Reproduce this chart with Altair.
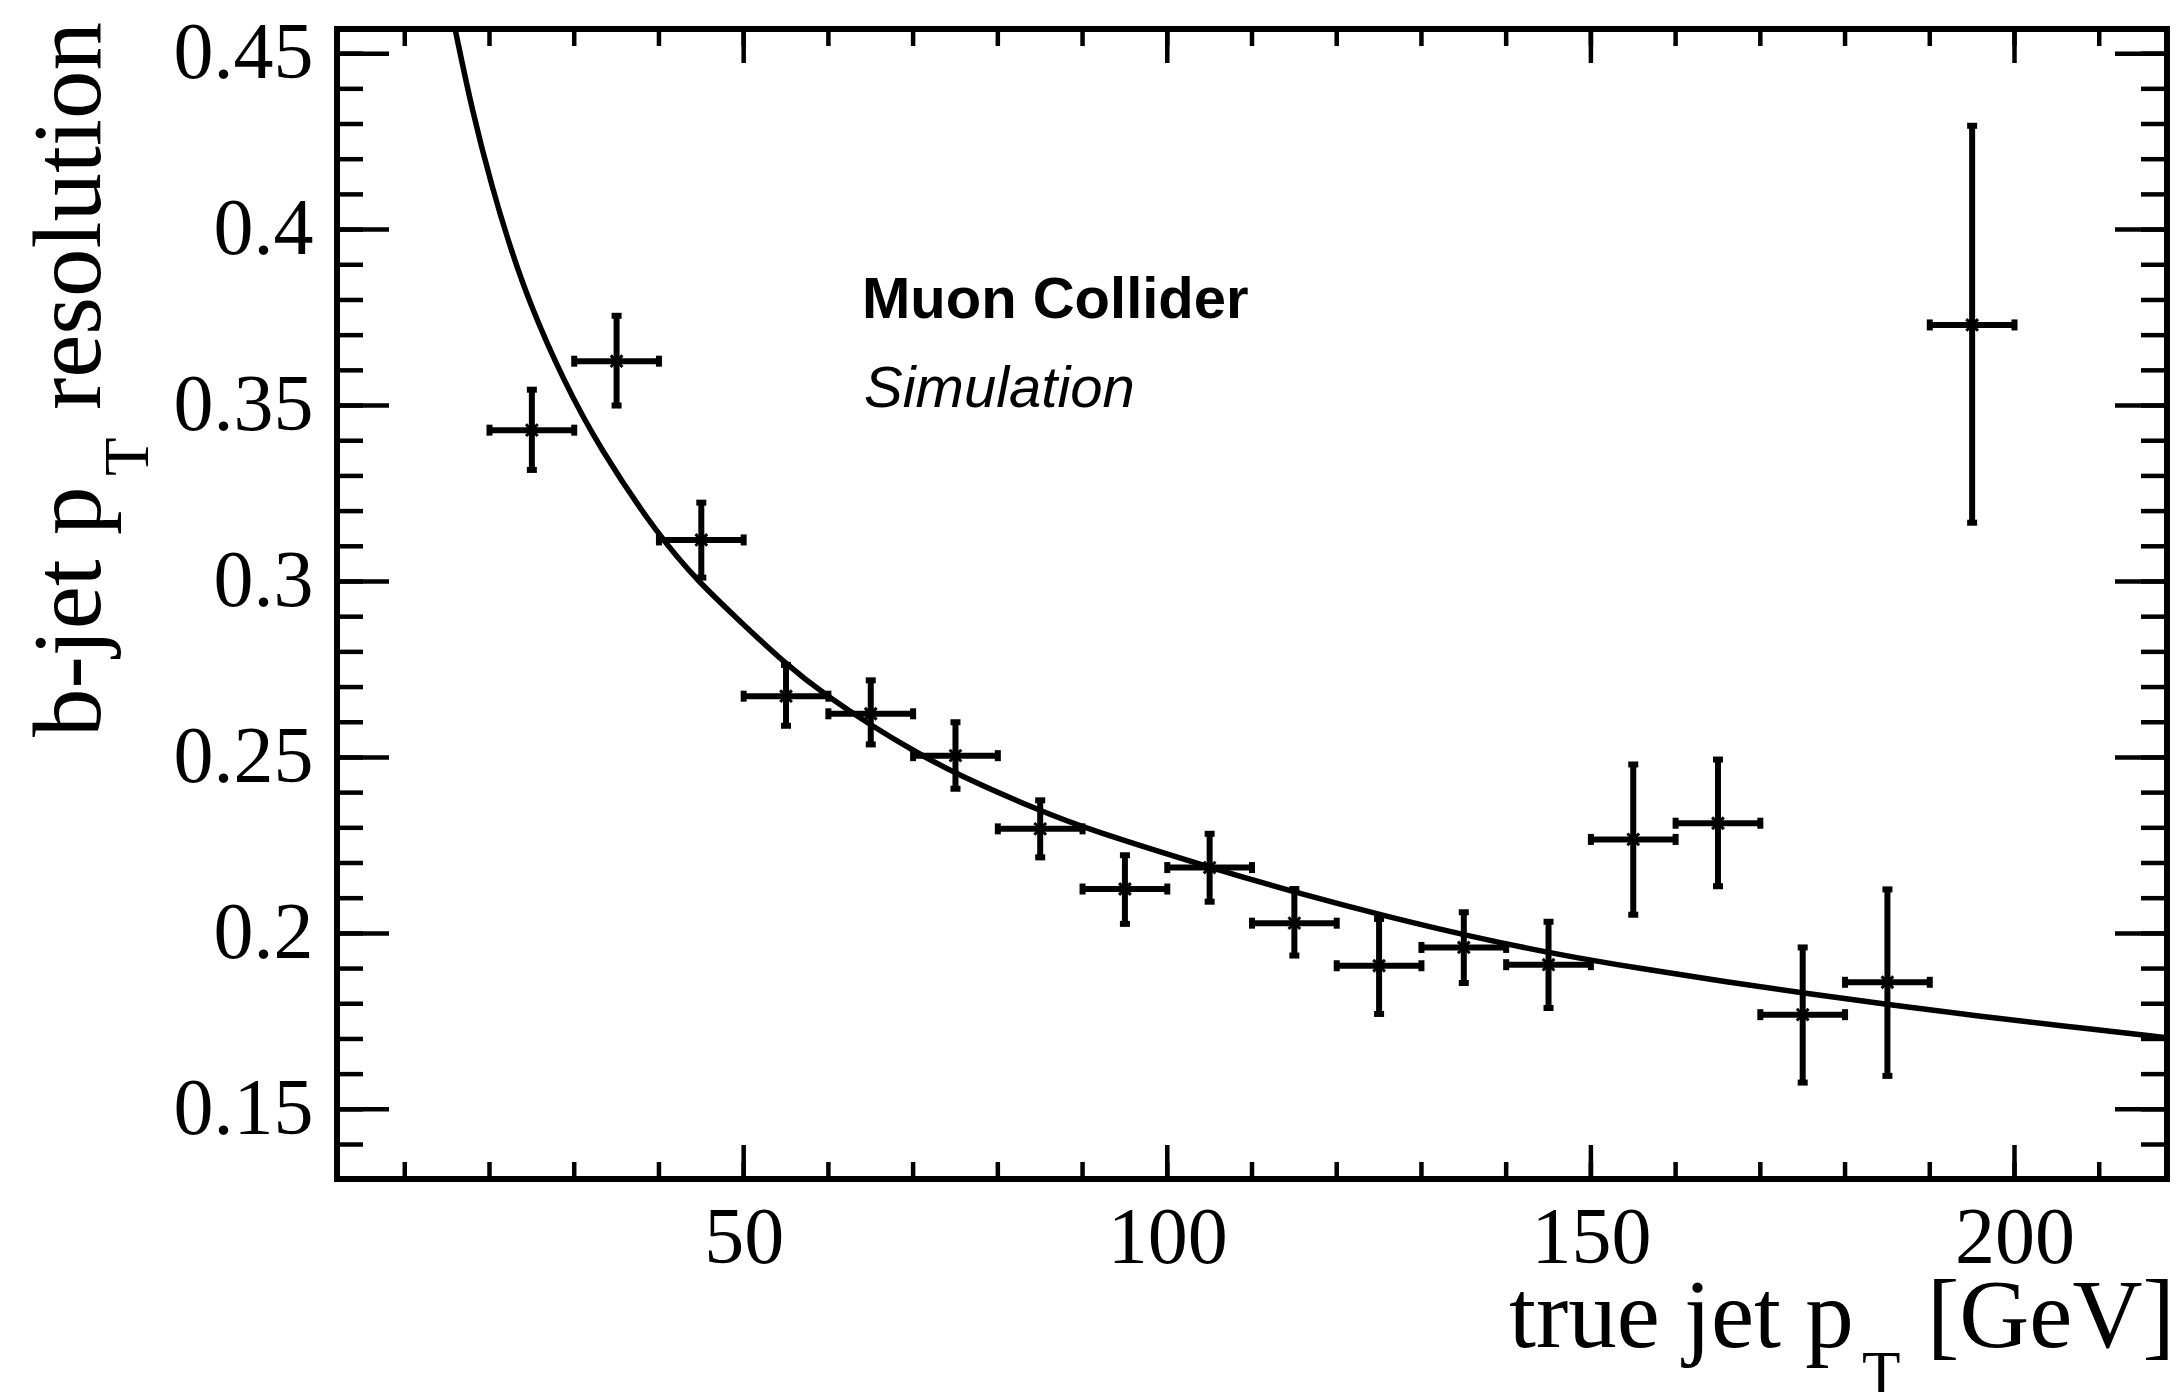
import altair as alt
import pandas as pd

# ---------------- data ----------------
bin_center = [25, 35, 45, 55, 65, 75, 85, 95, 105, 115, 125, 135, 145, 155, 165, 175, 185, 195]
bin_half_width = [5, 5, 5, 5, 5, 5, 5, 5, 5, 5, 5, 5, 5, 5, 5, 5, 5, 5]
resolution = [0.3430, 0.3626, 0.3118, 0.2674, 0.2624, 0.2505, 0.2297, 0.2126, 0.2187,
              0.2029, 0.1908, 0.1960, 0.1911, 0.2267, 0.2313, 0.1769, 0.1861, 0.3729]
res_low = [0.3317, 0.3500, 0.3011, 0.2590, 0.2537, 0.2411, 0.2216, 0.2027, 0.2090,
           0.1937, 0.1771, 0.1859, 0.1788, 0.2053, 0.2134, 0.1576, 0.1595, 0.3167]
res_high = [0.3545, 0.3755, 0.3224, 0.2763, 0.2719, 0.2600, 0.2378, 0.2222, 0.2283,
            0.2126, 0.2041, 0.2060, 0.2033, 0.2480, 0.2494, 0.1960, 0.2125, 0.4295]

# fitted curve
fit_pt = [16.0, 17.9, 20.3, 22.4, 24.9, 28.7, 32.9, 40.1, 44.8, 49.0, 54.9, 59.8, 65.1,
          70.4, 75.2, 85.4, 90.5, 105.3, 115.9, 125.9, 135.8, 145.8, 155.8, 165.8,
          175.8, 185.8, 195.8, 205.7, 217.7]
fit_res = [0.4563, 0.4343, 0.4120, 0.3952, 0.3780, 0.3573, 0.3382, 0.3124, 0.2996, 0.2900,
           0.2766, 0.2675, 0.2590, 0.2514, 0.2451, 0.2344, 0.2297, 0.2185, 0.2111, 0.2048,
           0.1991, 0.1941, 0.1900, 0.1863, 0.1828, 0.1795, 0.1765, 0.1737, 0.1704]

# axes
x_domain = [2, 218]
y_domain = [0.1302, 0.4570]
x_major_ticks = [50, 100, 150, 200]
x_minor_ticks = [10, 20, 30, 40, 50, 60, 70, 80, 90, 100, 110, 120, 130, 140, 150, 160,
                 170, 180, 190, 200, 210]
y_major_ticks = [0.15, 0.2, 0.25, 0.3, 0.35, 0.4, 0.45]
y_minor_ticks = [0.14, 0.15, 0.16, 0.17, 0.18, 0.19, 0.2, 0.21, 0.22, 0.23, 0.24, 0.25,
                 0.26, 0.27, 0.28, 0.29, 0.3, 0.31, 0.32, 0.33, 0.34, 0.35, 0.36, 0.37,
                 0.38, 0.39, 0.4, 0.41, 0.42, 0.43, 0.44, 0.45]

x_title_parts = ["true jet p", "T", "[GeV]"]
y_title_parts = ["b-jet p", "T", "resolution"]
label_lines = ["Muon Collider", "Simulation"]

# ---------------- chart ----------------
W, H = 1830, 1150
BLACK = "black"
SERIF = "Liberation Serif"
SANS = "Liberation Sans"

pts = pd.DataFrame({
    "x": bin_center,
    "xlo": [c - h for c, h in zip(bin_center, bin_half_width)],
    "xhi": [c + h for c, h in zip(bin_center, bin_half_width)],
    "y": resolution,
    "lo": res_low,
    "hi": res_high,
})
fit = pd.DataFrame({"x": fit_pt, "y": fit_res})

xs = alt.Scale(domain=x_domain, nice=False, zero=False)
ys = alt.Scale(domain=y_domain, nice=False, zero=False)

x_axis = alt.Axis(values=x_major_ticks, format="d", ticks=False, domain=False, grid=False,
                  labelFont=SERIF, labelFontSize=80, labelColor=BLACK, labelPadding=20,
                  labelFlush=False, labelOverlap=False, title=None)
y_axis = alt.Axis(values=y_major_ticks, format="~g", ticks=False, domain=False, grid=False,
                  labelFont=SERIF, labelFontSize=80, labelColor=BLACK, labelPadding=24,
                  labelOverlap=False, title=None)


def X(f):
    return alt.X(f, type="quantitative", scale=xs, axis=x_axis)


def Y(f):
    return alt.Y(f, type="quantitative", scale=ys, axis=y_axis)


base = alt.Chart(pts)

vbar = base.mark_rule(color=BLACK, strokeWidth=6).encode(x=X("x"), y=Y("lo"), y2="hi")
hbar = base.mark_rule(color=BLACK, strokeWidth=6).encode(x=X("xlo"), x2="xhi", y=Y("y"))

cap_kw = dict(color=BLACK, opacity=1)
vcap_lo = base.mark_tick(orient="horizontal", size=10, thickness=6, **cap_kw).encode(x=X("x"), y=Y("lo"))
vcap_hi = base.mark_tick(orient="horizontal", size=10, thickness=6, **cap_kw).encode(x=X("x"), y=Y("hi"))
hcap_lo = base.mark_tick(orient="vertical", size=11, thickness=6, **cap_kw).encode(x=X("xlo"), y=Y("y"))
hcap_hi = base.mark_tick(orient="vertical", size=11, thickness=6, **cap_kw).encode(x=X("xhi"), y=Y("y"))

star = "M-1,0L1,0M0,-1L0,1M-0.7,-0.7L0.7,0.7M-0.7,0.7L0.7,-0.7"
markers = base.mark_point(shape=star, size=280, filled=False, strokeWidth=3,
                          color=BLACK, opacity=1).encode(x=X("x"), y=Y("y"))

fit_line = alt.Chart(fit).mark_line(color=BLACK, strokeWidth=5.5, interpolate="basis",
                                    clip=True).encode(x=X("x"), y=Y("y"))


# inward ticks on all four sides
def xticks(vals, length, top):
    y0, y1 = (0, length) if top else (H, H - length)
    return alt.Chart(pd.DataFrame({"v": vals})).mark_rule(color=BLACK, strokeWidth=4.5).encode(
        x=X("v"), y=alt.value(y0), y2=alt.value(y1))


def yticks(vals, length, right):
    x0, x1 = (W, W - length) if right else (0, length)
    return alt.Chart(pd.DataFrame({"v": vals})).mark_rule(color=BLACK, strokeWidth=4.5).encode(
        y=Y("v"), x=alt.value(x0), x2=alt.value(x1))


tick_layers = [
    xticks(x_minor_ticks, 17, False), xticks(x_major_ticks, 34, False),
    xticks(x_minor_ticks, 17, True), xticks(x_major_ticks, 34, True),
    yticks(y_minor_ticks, 26, False), yticks(y_major_ticks, 52, False),
    yticks(y_minor_ticks, 26, True), yticks(y_major_ticks, 52, True),
]


def txt(s, x, y, size, font, angle=0, weight="normal", style="normal", align="left"):
    return alt.Chart(pd.DataFrame({"t": [s]})).mark_text(
        font=font, fontSize=size, fontWeight=weight, fontStyle=style, color=BLACK,
        align=align, baseline="alphabetic", angle=angle).encode(
        x=alt.value(x), y=alt.value(y), text="t:N")


texts = [
    txt(label_lines[0], 525, 289, 58, SANS, weight="bold"),
    txt(label_lines[1], 527, 378, 58, SANS, style="italic"),
    # x title
    txt(x_title_parts[0], 1172, 1318, 97, SERIF),
    txt(x_title_parts[1], 1525, 1366, 63, SERIF),
    txt(x_title_parts[2], 1590, 1318, 97, SERIF),
    # y title (rotated)
    txt(y_title_parts[0], -237, 708, 97, SERIF, angle=270),
    txt(y_title_parts[1], -189, 447, 63, SERIF, angle=270),
    txt(y_title_parts[2], -237, 381, 97, SERIF, angle=270),
]

chart = alt.layer(
    vbar, hbar, vcap_lo, vcap_hi, hcap_lo, hcap_hi, markers, fit_line, *tick_layers, *texts
).properties(
    width=W, height=H,
    padding={"left": 337, "top": 29, "right": 14, "bottom": 213},
    autosize=alt.AutoSizeParams(type="none"),
    background="white",
).configure_view(stroke=BLACK, strokeWidth=6)

chart.save("out.html", embed_options={"renderer": "svg", "actions": False})
